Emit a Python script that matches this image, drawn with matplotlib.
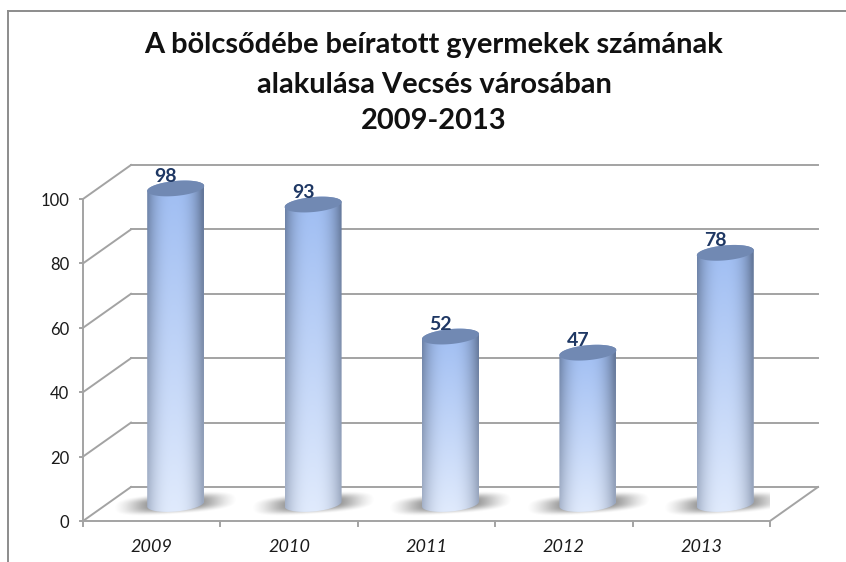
import numpy as np
import matplotlib
matplotlib.use("Agg")
import matplotlib.pyplot as plt
from matplotlib.path import Path
from matplotlib.patches import PathPatch
from matplotlib.lines import Line2D

years = ["2009", "2010", "2011", "2012", "2013"]
counts = [98, 93, 52, 47, 78]
y_ticks = [0, 20, 40, 60, 80, 100]
title_lines = ["A bölcsődébe beíratott gyermekek számának",
               "alakulása Vecsés városában",
               "2009-2013"]

W, H = 846, 562
plt.rcParams['font.family'] = ['Lato', 'DejaVu Sans']

fig = plt.figure(figsize=(W / 100, H / 100), dpi=100, facecolor="white")
ax = fig.add_axes([83 / W, (H - 521) / H, 687 / W, 322 / H])
ax.axis("off")

# outer chart frame
fig.add_artist(Line2D([8 / W, 8 / W], [0, 1 - 11 / H], color="#8c8c8c", lw=1.4))
fig.add_artist(Line2D([8 / W, 1], [1 - 11 / H, 1 - 11 / H], color="#8c8c8c", lw=1.4))

# fake 3d depth in data units
depth_x = 48 / 137.4
depth_y = 34 / 3.22
grid_color = "#a3a3a3"

for t in y_ticks:
    ax.plot([depth_x, 5 + depth_x], [t + depth_y, t + depth_y], color=grid_color, lw=1.4, clip_on=False, zorder=1)
    ax.plot([0, depth_x], [t, t + depth_y], color=grid_color, lw=1.4, clip_on=False, zorder=1)
    ax.plot([-0.025, 0], [t, t], color=grid_color, lw=1.4, clip_on=False, zorder=1)
    ax.text(-0.1, t - 0.6, str(t), ha="right", va="center", fontsize=12, color="#1a1a1a", clip_on=False)

ax.plot([0, 0], [0, 100], color=grid_color, lw=1.4, clip_on=False, zorder=1)
ax.plot([0, 5, 5 + depth_x], [0, 0, depth_y], color=grid_color, lw=1.4, clip_on=False, zorder=1)
for i in range(6):
    ax.plot([i, i], [0, -1.5], color=grid_color, lw=1.4, clip_on=False, zorder=1)


def cylinder_colors(nx=120, ny=80):
    u = np.linspace(-1, 1, nx)
    v = np.linspace(0, 1, ny)
    across = np.clip(1 - np.abs(u + 0.05) ** 2.6, 0, 1)[None, :, None]
    up = v[:, None, None]
    mid = (1 - up) * np.array([0.88, 0.92, 0.99]) + up * np.array([0.62, 0.74, 0.95])
    edge = (1 - up) * np.array([0.62, 0.67, 0.76]) + up * np.array([0.38, 0.46, 0.60])
    return mid * across + edge * (1 - across)


def shadow_rgba(nx=120, ny=50):
    xx, yy = np.meshgrid(np.linspace(-1, 1, nx), np.linspace(-1, 1, ny))
    yy = yy - 0.3 * xx
    alpha = np.exp(-(np.abs(xx / 0.72) ** 3 + np.abs(yy / 0.55) ** 3))
    alpha = np.clip(alpha * 1.1 - 0.1, 0, 1)
    rgba = np.zeros((ny, nx, 4))
    rgba[..., :3] = 0.5
    rgba[..., 3] = alpha
    return rgba


a = 28.5 / 137.4
b = 7.5 / 3.22
tilt = 2.5 / 3.22
base = depth_y / 2

for i, (year, value) in enumerate(zip(years, counts)):
    cx = i + 0.5 + depth_x / 2
    top = value + base

    # blurred shadow on the floor
    ax.imshow(shadow_rgba(), extent=(cx - 0.46, cx + 0.46, base - 4.5, base + 4.5),
              origin="lower", aspect="auto", zorder=2, interpolation="bilinear")

    # cylinder body: lower arc of the base, then the far arc of the top
    t1 = np.linspace(np.pi, 2 * np.pi, 40)
    t2 = np.linspace(0, np.pi, 40)
    px = np.r_[cx + a * np.cos(t1), cx + a * np.cos(t2)]
    py = np.r_[base + b * np.sin(t1) + tilt * np.cos(t1), top + b * np.sin(t2) + tilt * np.cos(t2)]
    body = PathPatch(Path(np.c_[px, py]), transform=ax.transData, fc="none", ec="none")
    ax.add_patch(body)
    im = ax.imshow(cylinder_colors(), extent=(cx - a, cx + a, base - b - tilt, top + b + tilt),
                   origin="lower", aspect="auto", zorder=3, interpolation="bilinear")
    im.set_clip_box(fig.bbox)
    im.set_clip_path(body)

    # top face
    t = np.linspace(0, 2 * np.pi, 80)
    ax.fill(cx + a * np.cos(t), top + b * np.sin(t) + tilt * np.cos(t), color="#7189b3", zorder=4, lw=0, clip_on=False)

    ax.annotate(str(value), xy=(cx, top), xytext=(-10, 12), textcoords="offset pixels",
                ha="center", va="center", fontsize=14, fontweight="bold", color="#1f3864", zorder=5,
                annotation_clip=False)
    ax.text(i + 0.5, -8, year, ha="center", va="center", fontsize=13, style="italic", color="#1a1a1a", clip_on=False)

ax.set_xlim(0, 5)
ax.set_ylim(0, 100)

for line, y in zip(title_lines, [45, 85, 121]):
    fig.text(434 / W, 1 - y / H, line, ha="center", va="center", fontsize=20.9, fontweight="bold", color="#111111")

fig.savefig("out.png", dpi=100)
